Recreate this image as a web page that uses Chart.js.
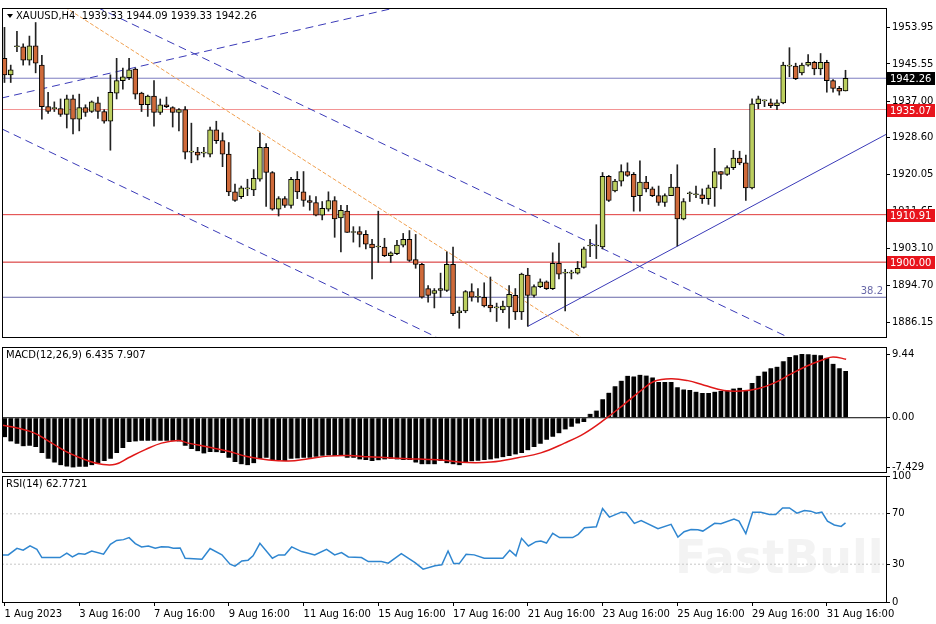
<!DOCTYPE html>
<html>
<head>
<meta charset="utf-8">
<script src="https://cdn.jsdelivr.net/npm/chart.js@4.4.0/dist/chart.umd.min.js"></script>
<style>
  body { margin: 0; background: #fff; }
  .pane { position: absolute; left: 0; width: 936px; }
  #p1 { top: 0; height: 345px; }
  #p2 { top: 339px; height: 141px; }
  #p3 { top: 468px; height: 156px; }
</style>
</head>
<body>
<div class="pane" id="p1"><canvas id="priceChart"></canvas></div>
<div class="pane" id="p2"><canvas id="macdChart"></canvas></div>
<div class="pane" id="p3"><canvas id="rsiChart"></canvas></div>
<script>
// H4 candles, 1 Aug - 31 Aug 2023
const opens = [1946.83,1943.05,1949.50,1949.50,1946.39,1949.72,1945.28,1935.72,1935.27,1935.27,
1933.94,1937.50,1932.83,1935.50,1934.61,1936.61,1934.61,1932.38,1938.83,1941.72,
1942.39,1944.39,1938.83,1936.16,1938.16,1934.39,1936.16,1935.50,1934.39,1935.05,
1925.27,1925.27,1925.05,1924.83,1930.38,1927.94,1924.83,1916.16,1915.05,1916.83,
1916.60,1919.05,1926.38,1920.60,1912.16,1914.60,1913.05,1919.05,1916.16,1914.16,
1913.71,1910.82,1912.16,1914.16,1910.16,1911.71,1906.82,1907.04,1906.37,1904.15,
1903.49,1903.49,1901.48,1901.93,1903.93,1905.26,1900.59,1899.48,1893.93,1892.81,
1893.48,1893.48,1899.48,1888.37,1888.81,1893.26,1891.93,1891.93,1890.15,1889.48,
1889.04,1889.70,1892.37,1888.59,1897.04,1892.37,1894.37,1895.48,1893.93,1899.70,
1897.48,1897.48,1897.48,1898.81,1903.71,1903.71,1903.49,1919.71,1916.38,1918.60,
1920.82,1920.16,1915.27,1918.38,1916.83,1915.27,1913.71,1915.27,1917.27,1909.93,
1915.71,1915.49,1915.49,1914.60,1917.05,1920.82,1920.16,1921.71,1923.94,1922.82,
1917.05,1936.39,1937.05,1936.61,1935.94,1936.61,1945.06,1945.06,1943.50,1945.28,
1945.94,1944.39,1945.94,1941.72,1939.94,1939.33];
const highs = [1953.95,1945.28,1953.06,1950.17,1951.95,1955.06,1947.50,1939.05,1936.83,1937.50,
1938.39,1938.39,1938.61,1936.16,1937.05,1937.94,1935.05,1943.05,1946.83,1944.61,
1946.83,1944.61,1939.05,1938.39,1941.72,1937.50,1937.94,1935.72,1935.27,1935.72,
1931.94,1926.38,1926.38,1931.05,1932.38,1929.72,1927.49,1917.94,1917.49,1919.05,
1921.27,1929.72,1927.27,1920.82,1915.05,1915.05,1919.49,1920.82,1920.82,1915.27,
1915.05,1913.93,1916.16,1915.05,1913.05,1913.05,1908.15,1908.15,1907.26,1905.26,
1911.71,1905.49,1902.37,1905.04,1906.60,1907.26,1906.37,1899.70,1894.59,1893.93,
1897.48,1902.37,1903.49,1889.70,1893.48,1895.04,1893.93,1895.26,1896.59,1890.59,
1891.04,1894.59,1893.93,1897.48,1898.59,1894.81,1896.15,1895.70,1902.15,1904.37,
1898.37,1898.15,1900.15,1903.49,1905.26,1908.60,1920.60,1919.93,1919.05,1922.38,
1922.82,1920.60,1923.27,1919.71,1917.27,1917.49,1915.71,1920.16,1922.38,1914.60,
1916.16,1917.49,1916.83,1917.71,1926.16,1920.82,1922.16,1925.71,1925.49,1924.60,
1937.50,1938.16,1937.27,1937.50,1937.27,1945.94,1949.28,1945.72,1945.72,1947.72,
1946.17,1947.94,1946.39,1941.94,1940.39,1944.09];
const lows = [1941.28,1941.28,1948.39,1945.28,1945.28,1943.50,1932.83,1934.16,1934.61,1933.49,
1930.83,1929.49,1930.16,1933.49,1934.39,1933.05,1931.94,1925.72,1937.50,1939.72,
1941.94,1937.50,1934.61,1933.49,1931.27,1933.94,1935.50,1931.05,1930.16,1923.72,
1922.83,1923.49,1924.16,1924.16,1927.27,1921.94,1915.27,1913.93,1914.60,1915.27,
1915.27,1918.60,1912.82,1911.93,1910.60,1912.60,1912.38,1914.60,1912.82,1911.93,
1910.60,1909.71,1911.71,1905.71,1902.37,1906.82,1904.60,1903.49,1903.04,1896.15,
1899.93,1901.26,1899.93,1901.71,1903.49,1900.15,1898.59,1891.70,1890.81,1889.48,
1891.93,1893.26,1887.70,1884.81,1888.37,1891.04,1890.81,1889.70,1888.59,1886.37,
1888.37,1884.81,1886.81,1886.81,1885.26,1891.93,1894.15,1893.70,1893.70,1896.15,
1888.81,1896.15,1897.26,1898.59,1901.26,1900.82,1903.04,1913.93,1916.16,1917.49,
1919.71,1911.71,1911.71,1916.16,1915.05,1913.04,1912.82,1915.27,1903.71,1909.71,
1913.93,1914.82,1913.49,1913.27,1912.82,1916.83,1919.93,1921.27,1922.38,1914.16,
1916.83,1935.27,1935.72,1935.50,1935.05,1936.39,1942.61,1941.94,1943.05,1945.06,
1943.05,1943.05,1939.05,1939.05,1938.39,1939.33];
const closes = [1943.05,1944.17,1949.50,1946.39,1949.72,1945.72,1935.72,1934.61,1935.27,1933.94,
1937.50,1932.83,1935.50,1934.39,1936.83,1934.61,1932.38,1939.05,1941.72,1942.61,
1944.17,1938.61,1936.16,1938.16,1934.39,1936.16,1935.72,1934.39,1935.05,1925.27,
1925.27,1924.60,1925.05,1930.38,1927.94,1924.83,1916.16,1914.16,1917.05,1916.83,
1919.27,1926.38,1920.60,1912.16,1914.60,1913.05,1919.05,1916.16,1914.16,1913.71,
1910.82,1912.38,1914.16,1909.93,1911.93,1906.82,1906.82,1906.37,1904.15,1903.26,
1903.49,1901.48,1902.15,1903.93,1905.26,1900.37,1899.48,1891.93,1892.37,1893.48,
1893.93,1899.48,1888.15,1888.81,1893.26,1891.93,1891.93,1889.93,1889.48,1889.48,
1889.93,1892.59,1888.59,1897.26,1892.37,1894.37,1895.48,1893.93,1899.70,1897.26,
1897.48,1897.48,1898.59,1903.04,1903.71,1903.71,1919.71,1914.16,1918.60,1920.82,
1919.93,1915.05,1918.38,1916.83,1915.27,1913.71,1915.27,1917.27,1909.93,1913.93,
1915.71,1915.49,1914.60,1917.05,1920.82,1920.16,1921.71,1923.94,1922.82,1917.05,
1936.39,1937.50,1937.05,1935.94,1936.61,1945.28,1945.06,1942.17,1945.28,1945.94,
1944.39,1945.94,1941.72,1939.94,1939.27,1942.26];

const macdHist = [-2.91,-3.55,-3.89,-4.27,-4.18,-4.37,-5.25,-6.12,-6.70,-7.09,
-7.29,-7.43,-7.33,-7.33,-7.09,-6.80,-6.46,-6.12,-5.25,-4.52,
-3.64,-3.55,-3.45,-3.45,-3.45,-3.45,-3.45,-3.45,-3.55,-4.18,
-4.66,-5.00,-5.34,-5.10,-5.15,-5.25,-5.97,-6.61,-6.95,-7.09,
-6.80,-6.12,-5.97,-6.31,-6.31,-6.46,-6.12,-6.07,-5.97,-5.97,
-5.83,-5.68,-5.63,-5.73,-5.73,-5.97,-5.97,-6.22,-6.31,-6.46,
-6.36,-6.22,-6.12,-6.22,-6.31,-6.31,-6.70,-6.95,-6.95,-6.95,
-6.46,-6.80,-6.95,-7.09,-6.61,-6.51,-6.41,-6.31,-6.22,-6.07,
-5.88,-5.73,-5.49,-5.25,-4.86,-4.37,-3.89,-3.30,-2.82,-2.33,
-1.75,-1.36,-0.87,-0.63,0.58,1.07,2.77,3.74,4.71,5.54,
6.27,6.17,6.41,6.31,6.02,5.34,5.34,5.34,4.57,4.23,
4.13,3.89,3.69,3.69,3.89,3.98,4.08,4.37,4.47,4.08,
5.20,6.27,6.90,7.38,7.63,8.45,9.08,9.33,9.52,9.47,
9.42,9.33,8.94,8.06,7.38,6.99];
const signalIdx = [-0.4,1.7,4.9,7.6,10.3,13.5,15.6,17.8,19.9,22.6,25.2,27.9,29.5,32.7,35.9,39.1,42.4,45.6,48.8,52.0,55.2,58.4,61.6,64.8,68.0,
70.1,74.4,78.1,82.4,86.1,89.9,93.1,96.3,99.5,102.2,104.3,107.0,109.7,112.3,115.5,118.2,120.9,123.6,126.2,128.9,131.6,133.0,135.1];
const signalVals = [-1.12,-1.46,-2.33,-3.79,-5.25,-6.46,-6.95,-6.95,-5.97,-4.76,-3.79,-3.40,-3.79,-4.37,-5.00,-5.83,-6.31,-6.46,-6.12,-5.73,-5.63,-5.83,-5.97,-6.12,-6.22,
-6.31,-6.70,-6.61,-5.97,-5.25,-3.79,-2.33,-0.29,2.04,4.08,5.44,5.83,5.54,4.86,4.08,3.98,4.32,5.20,6.51,7.77,8.74,9.08,8.74];

const rsiIdx = [-0.4,0.6,2.0,3.0,4.1,5.2,6.0,8.9,10.0,10.9,11.9,12.9,14.0,15.9,17.0,18.0,19.1,20.0,21.0,22.0,23.1,24.2,25.2,26.3,27.1,28.2,29.0,31.7,33.0,34.9,
36.2,37.0,38.1,39.1,39.9,41.0,43.0,44.0,45.0,46.1,47.7,49.8,51.7,53.0,54.1,55.2,57.3,58.4,60.5,61.6,63.7,65.9,67.2,69.1,70.2,71.2,
72.1,73.0,74.1,75.4,77.0,80.0,81.1,82.1,83.0,84.1,85.3,86.1,87.0,88.0,89.1,91.2,92.1,93.1,95.0,96.0,97.1,99.0,99.8,101.1,102.2,104.9,
107.0,108.1,109.1,110.2,111.3,112.1,114.0,115.0,117.1,117.9,119.0,120.1,121.4,122.8,123.8,124.9,126.0,127.2,128.4,129.4,130.3,131.2,132.1,133.2,134.3,135.0];
const rsiVals = [37.4,37.4,42.6,41.1,44.5,41.8,35.3,35.3,38.7,35.8,38.4,37.9,40.5,37.9,45.8,48.9,49.5,51.1,46.3,43.7,44.5,42.6,43.9,43.7,42.6,42.9,34.7,33.9,42.4,37.4,
30.0,28.4,32.6,33.2,36.6,46.6,34.7,37.4,37.4,43.7,40.0,37.4,41.8,37.4,39.2,35.8,35.3,32.1,32.1,30.8,38.4,31.3,26.1,28.7,29.5,40.5,
30.5,30.5,37.9,37.4,34.7,34.7,41.1,36.6,50.5,44.5,47.9,48.4,46.8,54.5,51.1,51.1,53.7,58.9,59.7,74.2,67.4,71.3,70.8,62.4,64.7,58.2,
61.6,51.6,55.8,57.6,57.4,56.3,62.4,62.1,65.8,64.2,54.2,71.3,71.3,69.5,69.5,74.7,74.7,70.5,72.6,72.1,70.5,71.3,64.2,61.1,60.0,62.77];

const priceTicks = [1953.95, 1945.55, 1937.00, 1928.60, 1920.05, 1911.65, 1903.10, 1894.70, 1886.15];
const timeTickIdx = [0, 12, 24, 36, 48, 60, 72, 84, 96, 108, 120, 132];
const timeTickLabels = ['1 Aug 2023', '3 Aug 16:00', '7 Aug 16:00', '9 Aug 16:00', '11 Aug 16:00', '15 Aug 16:00',
  '17 Aug 16:00', '21 Aug 16:00', '23 Aug 16:00', '25 Aug 16:00', '29 Aug 16:00', '31 Aug 16:00'];

// levels drawn on the chart
const levelPrices = [1942.26, 1935.07, 1910.91, 1900.00];
const levelColors = ['#000000', '#e8141c', '#e8141c', '#e8141c'];
const fibLevel = 1891.93;

// trend lines (bar index, price)
const riseDashed = [{x: -0.5, y: 1937.7}, {x: 62, y: 1958.2}];
const fallUpper = [{x: 14.8, y: 1958.6}, {x: 125.7, y: 1882.8}];
const fallLower = [{x: -0.4, y: 1930.6}, {x: 69.3, y: 1882.8}];
const orangeLine = [{x: 9.7, y: 1958.6}, {x: 92.5, y: 1882.8}];
const riseSolid = [{x: 84.0, y: 1885.25}, {x: 141.7, y: 1929.5}];

const FONT = "'DejaVu Sans', sans-serif";
const X_MIN = -0.4, X_MAX = 141.5;
const bull = '#bccf5f', bear = '#cf6a3a';

Chart.defaults.font.family = FONT;
Chart.defaults.font.size = 10;
Chart.defaults.color = '#000';
Chart.defaults.animation = false;

const frame = {
  id: 'frame',
  afterDraw(chart) {
    const {ctx, chartArea: a} = chart;
    ctx.save();
    ctx.strokeStyle = '#000';
    ctx.lineWidth = 1;
    ctx.strokeRect(a.left + 0.5, a.top + 0.5, a.right - a.left, a.bottom - a.top);
    ctx.restore();
  }
};

function hline(y, color, width) {
  return {type: 'line', data: [{x: X_MIN, y: y}, {x: X_MAX, y: y}], borderColor: color,
    borderWidth: width || 1, pointRadius: 0, order: 5};
}
function tline(pts, color, dash) {
  return {type: 'line', data: pts, borderColor: color, borderWidth: 1,
    borderDash: dash || [], pointRadius: 0, order: 4};
}

function xScale(show) {
  return {
    type: 'linear', min: X_MIN, max: X_MAX, display: show, offset: false,
    afterBuildTicks: s => { s.ticks = timeTickIdx.map(v => ({value: v})); },
    ticks: {align: 'start', maxRotation: 0, autoSkip: false, padding: 2,
      callback: (v) => timeTickLabels[timeTickIdx.indexOf(v)]},
    grid: {drawOnChartArea: false, tickLength: 4, color: '#000', offset: false},
    border: {display: false}
  };
}
function yScale(opts) {
  return Object.assign({
    position: 'right',
    afterFit: s => { s.width = 50; },
    grid: {drawOnChartArea: false, tickLength: 4, color: '#000'},
    border: {display: false},
    ticks: {padding: 2}
  }, opts);
}

const candleIdx = opens.map((_, i) => i);
const bodyColors = opens.map((o, i) => closes[i] >= o ? bull : bear);

new Chart(document.getElementById('priceChart'), {
  type: 'bar',
  data: {
    datasets: [
      {data: candleIdx.map(i => ({x: i, y: [lows[i], highs[i]]})), backgroundColor: '#222',
        barThickness: 1, grouped: false, order: 2},
      {data: candleIdx.map(i => ({x: i, y: [opens[i], closes[i]]})), backgroundColor: bodyColors,
        borderColor: '#000', borderWidth: 1, borderSkipped: false, barThickness: 5,
        minBarLength: 1, grouped: false, order: 1},
      hline(levelPrices[0], '#7c7cc0'),
      hline(levelPrices[1], '#f39494'),
      hline(levelPrices[2], '#e03a3a'),
      hline(levelPrices[3], '#d42020'),
      hline(fibLevel, '#6868a8'),
      tline(riseDashed, '#3a3ab8', [8, 5]),
      tline(fallUpper, '#3a3ab8', [8, 5]),
      tline(fallLower, '#3a3ab8', [8, 5]),
      tline(orangeLine, '#f0a050', [4, 2]),
      tline(riseSolid, '#3a3ab8')
    ]
  },
  options: {
    responsive: true, maintainAspectRatio: false,
    layout: {padding: {left: 2, top: 3, bottom: 2, right: 0}},
    plugins: {legend: {display: false}, tooltip: {enabled: false}},
    scales: {
      x: xScale(false),
      y: yScale({min: 1882.8, max: 1958.4,
        afterBuildTicks: s => { s.ticks = priceTicks.map(v => ({value: v})); },
        ticks: {padding: 2, callback: v => v.toFixed(2)}})
    }
  },
  plugins: [frame, {
    id: 'labels',
    afterDraw(chart) {
      const {ctx, chartArea: a, scales: {y}} = chart;
      ctx.save();
      ctx.font = '10px ' + FONT;
      ctx.textBaseline = 'middle';
      levelPrices.forEach((p, k) => {
        const py = Math.round(y.getPixelForValue(p));
        ctx.fillStyle = levelColors[k];
        ctx.fillRect(a.right + 1, py - 6, 48, 13);
        ctx.fillStyle = '#fff';
        ctx.fillText(p.toFixed(2), a.right + 4, py + 1);
      });
      ctx.fillStyle = '#6868a8';
      ctx.textAlign = 'right';
      ctx.fillText('38.2', a.right - 3, y.getPixelForValue(fibLevel) - 6);
      ctx.textAlign = 'left';
      ctx.fillStyle = '#000';
      ctx.fillText('XAUUSD,H4  1939.33 1944.09 1939.33 1942.26', a.left + 14, a.top + 8);
      ctx.beginPath();
      ctx.moveTo(a.left + 5, a.top + 6); ctx.lineTo(a.left + 11, a.top + 6); ctx.lineTo(a.left + 8, a.top + 10);
      ctx.fill();
      ctx.restore();
    }
  }]
});

new Chart(document.getElementById('macdChart'), {
  type: 'bar',
  data: {
    datasets: [
      {type: 'line', data: signalIdx.map((x, i) => ({x: x, y: signalVals[i]})), borderColor: '#e01818',
        borderWidth: 1.5, pointRadius: 0, tension: 0.4, order: 1},
      {data: macdHist.map((v, i) => ({x: i, y: v})), backgroundColor: '#000', borderColor: '#777',
        borderWidth: {left: 1, right: 0, top: 0, bottom: 0}, barThickness: 5, order: 2},
      hline(0, '#000')
    ]
  },
  options: {
    responsive: true, maintainAspectRatio: false,
    layout: {padding: {left: 2, top: 1, bottom: 1, right: 0}},
    plugins: {legend: {display: false}, tooltip: {enabled: false}},
    scales: {
      x: xScale(false),
      y: yScale({min: -8.1, max: 10.56,
        afterBuildTicks: s => { s.ticks = [9.44, 0, -7.429].map(v => ({value: v})); },
        ticks: {padding: 2, callback: v => v === 0 ? '0.00' : String(v)}})
    }
  },
  plugins: [frame, {
    id: 'macdTitle',
    afterDraw(chart) {
      const {ctx, chartArea: a} = chart;
      ctx.save();
      ctx.font = '10px ' + FONT;
      ctx.fillStyle = '#000';
      ctx.textBaseline = 'middle';
      ctx.fillText('MACD(12,26,9) 6.435 7.907', a.left + 4, a.top + 8);
      ctx.restore();
    }
  }]
});

new Chart(document.getElementById('rsiChart'), {
  type: 'line',
  data: {
    datasets: [
      {data: rsiIdx.map((x, i) => ({x: x, y: rsiVals[i]})), borderColor: '#2f86d0',
        borderWidth: 1.5, pointRadius: 0, tension: 0},
      {data: [{x: X_MIN, y: 70}, {x: X_MAX, y: 70}], borderColor: '#c8c8c8', borderDash: [2, 2], borderWidth: 1, pointRadius: 0},
      {data: [{x: X_MIN, y: 30}, {x: X_MAX, y: 30}], borderColor: '#c8c8c8', borderDash: [2, 2], borderWidth: 1, pointRadius: 0}
    ]
  },
  options: {
    responsive: true, maintainAspectRatio: false,
    layout: {padding: {left: 2, top: 2, bottom: 2, right: 0}},
    plugins: {legend: {display: false}, tooltip: {enabled: false}},
    scales: {
      x: xScale(true),
      y: yScale({min: 0, max: 100,
        afterBuildTicks: s => { s.ticks = [100, 70, 30, 0].map(v => ({value: v})); },
        ticks: {padding: 2}})
    }
  },
  plugins: [frame, {
    id: 'rsiTitle',
    beforeDatasetsDraw(chart) {
      const {ctx, chartArea: a} = chart;
      ctx.save();
      ctx.font = 'bold 46px ' + FONT;
      ctx.fillStyle = 'rgba(215,215,215,0.3)';
      ctx.textBaseline = 'middle';
      ctx.fillText('FastBull', 675, a.top + 85);
      ctx.restore();
    },
    afterDraw(chart) {
      const {ctx, chartArea: a} = chart;
      ctx.save();
      ctx.font = '10px ' + FONT;
      ctx.fillStyle = '#000';
      ctx.textBaseline = 'middle';
      ctx.fillText('RSI(14) 62.7721', a.left + 4, a.top + 8);
      ctx.restore();
    }
  }]
});
</script>
</body>
</html>
